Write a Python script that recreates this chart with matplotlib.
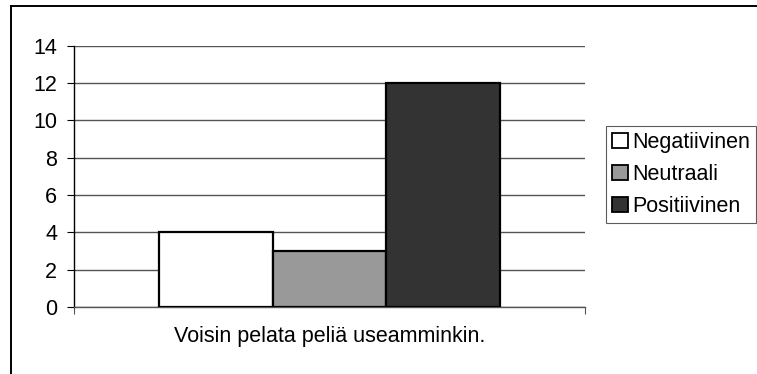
import numpy as np
import matplotlib
matplotlib.use('Agg')
import matplotlib.pyplot as plt
from matplotlib.lines import Line2D

# data
category = 'Voisin pelata peliä useamminkin.'
series = ['Negatiivinen', 'Neutraali', 'Positiivinen']
values = [4, 3, 12]
bar_colors = ['#ffffff', '#999999', '#333333']
y_ticks = [0, 2, 4, 6, 8, 10, 12, 14]

plt.rcParams['font.family'] = ['Liberation Sans', 'DejaVu Sans']
fs = 15.5

W, H = 757, 374
fig = plt.figure(figsize=(W / 100, H / 100), dpi=100)
ax = fig.add_axes([74 / W, (H - 307) / H, (585 - 74) / W, (307 - 45.5) / H])

# three bars side by side, centred in the category slot
width = 0.222
offsets = (np.arange(len(values)) - 1) * width
for off, v, c, name in zip(offsets, values, bar_colors, series):
    ax.bar(0.5 + off, v, width=width, color=c, edgecolor='black',
           linewidth=1.6, label=name, zorder=3)

ax.set_xlim(0, 1)
ax.set_ylim(0, 14)
ax.set_yticks(y_ticks)
ax.yaxis.grid(True, color='#555555', linewidth=1.0, zorder=0)
ax.set_axisbelow(True)

ax.set_xticks([0, 1])
ax.set_xticklabels(['', ''])
ax.set_xticks([0.5], minor=True)
ax.set_xticklabels([category], minor=True)
ax.tick_params(axis='x', which='major', direction='out', length=5, color='#555555')
ax.tick_params(axis='x', which='minor', length=0, pad=14, labelsize=fs)
ax.tick_params(axis='y', direction='out', length=5, labelsize=fs, pad=7)

for s in ['top', 'right']:
    ax.spines[s].set_visible(False)
ax.spines['left'].set_color('black')
ax.spines['left'].set_linewidth(1.0)
ax.spines['bottom'].set_color('#555555')
ax.spines['bottom'].set_linewidth(1.0)

# legend box at the right
leg = fig.legend(loc='upper left', bbox_to_anchor=(606 / W, 1 - 126 / H),
                 fontsize=fs, frameon=True, fancybox=False,
                 handlelength=0.7, handleheight=0.7, handletextpad=0.2,
                 borderpad=0.3, labelspacing=0.5, borderaxespad=0)
leg.get_frame().set_edgecolor('#333333')
leg.get_frame().set_linewidth(0.8)
for p in leg.get_patches():
    p.set_linewidth(1.3)

# outer chart frame (only left and top edges visible)
fig.add_artist(Line2D([10.5 / W, 10.5 / W], [0, 1 - 5.5 / H], transform=fig.transFigure,
                      color='black', linewidth=1.4))
fig.add_artist(Line2D([10.5 / W, 1], [1 - 5.5 / H, 1 - 5.5 / H], transform=fig.transFigure,
                      color='black', linewidth=1.4))

fig.savefig('out.png', dpi=100)
